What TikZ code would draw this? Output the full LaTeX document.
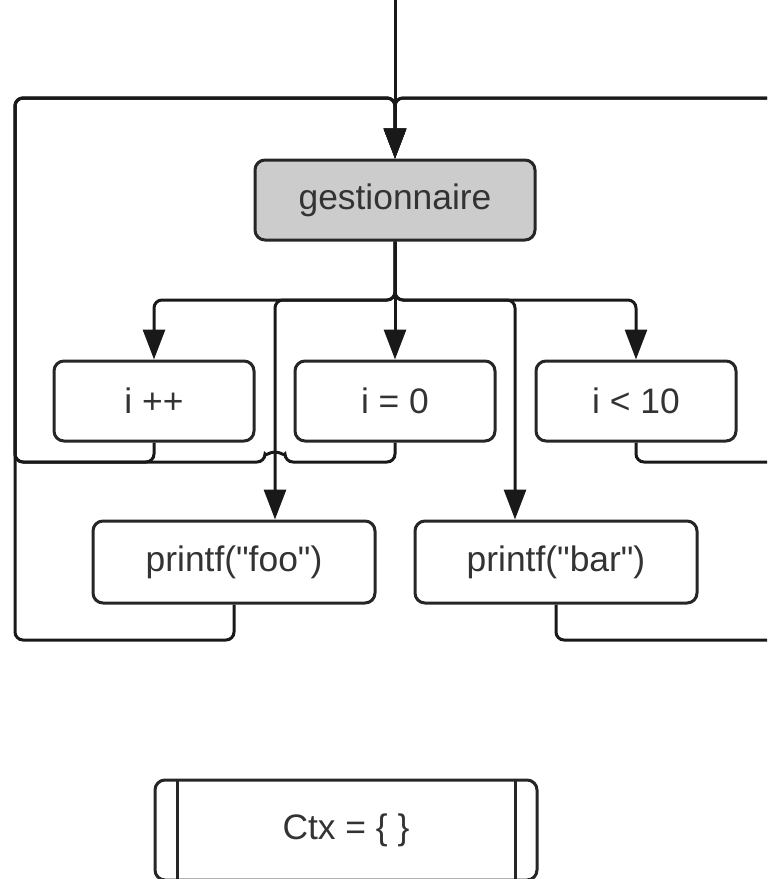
\documentclass[tikz,border=0pt]{standalone}
\usepackage{fontspec}
\setmainfont{Liberation Sans}[Ligatures=TeXOff]
\usepackage{xcolor}
\usetikzlibrary{arrows.meta, positioning, calc}
\definecolor{txtgray}{HTML}{333333}
\definecolor{boxgray}{HTML}{CCCCCC}
\tikzset{
  box/.style={rectangle, rounded corners=5pt, draw=black!85, line width=1.5pt,
              fill=#1, text=txtgray, font=\fontsize{17.7}{21}\selectfont,
              minimum width=100pt, minimum height=40pt,
              inner sep=2pt, align=center},
  box/.default=white,
  arr/.style={-{Triangle[length=15pt,width=11pt]}, line width=1.5pt,
              black!90, rounded corners=4pt},
  procbox/.style={box, minimum width=191pt, minimum height=50pt,
              path picture={
                \draw[line width=1.5pt, black!85]
                  ([xshift=11pt]path picture bounding box.north west) --
                  ([xshift=11pt]path picture bounding box.south west)
                  ([xshift=-11pt]path picture bounding box.north east) --
                  ([xshift=-11pt]path picture bounding box.south east);}},
}
\begin{document}
\begin{tikzpicture}[x=0.5pt, y=-0.5pt]
  \useasboundingbox (0,0) rectangle (767,879);
  \clip (0,0) rectangle (767,879);
  %% Dispatcher
  \node[box=boxgray, minimum width=140pt] (gest) at (395,200) {gestionnaire};
  %% Middle row
  \node[box, below=59pt of gest] (i0)  {i = 0};
  \node[box, left=19pt of i0]    (ipp) {i ++};
  \node[box, right=19pt of i0]   (ilt) {i < 10};
  %% Lower row
  \node[box, minimum width=141pt, minimum height=41pt] (foo) at (234,562) {printf("foo")};
  \node[box, minimum width=141pt, minimum height=41pt] (bar) at (556,562) {printf("bar")};
  %% Context
  \node[procbox] (ctx) at (346,830) {Ctx = \{ \}};
  %% Loop corners
  \coordinate (in)   at (395,0);
  \coordinate (topL) at (15,98);
  \coordinate (topR) at (800,98);
  \coordinate (lowL) at (15,462);
  \coordinate (lowR) at (800,462);
  \coordinate (botL) at (15,640);
  \coordinate (botR) at (800,640);
  \coordinate (br)   at (395,300);
  \coordinate (jf)   at (275,300);
  \coordinate (jb)   at (515,300);
  \coordinate (hop)  at (285,462);
  %% Entry and branches
  \draw[arr] (in) -- (gest.north);
  \draw[arr] (gest.south) -- (i0.north);
  \foreach \a in {ipp,ilt}
    \draw[arr] (gest.south) -- (br) -| (\a.north);
  \foreach \j/\b in {jf/foo,jb/bar}
    \draw[arr] (gest.south) -- (br) -- (\j) -- (\j |- \b.north);
  %% Returns to the dispatcher
  \draw[arr] (ipp.south) |- (lowL) -- (topL) -| (gest.north);
  \draw[arr] (i0.south) |- (hop) arc[start angle=0, end angle=180, radius=5pt]
    -- (lowL) -- (topL) -| (gest.north);
  \draw[arr] (foo.south) |- (botL) -- (topL) -| (gest.north);
  \draw[arr] (ilt.south) |- (lowR) -- (topR) -| (gest.north);
  \draw[arr] (bar.south) |- (botR) -- (topR) -| (gest.north);
\end{tikzpicture}
\end{document}
